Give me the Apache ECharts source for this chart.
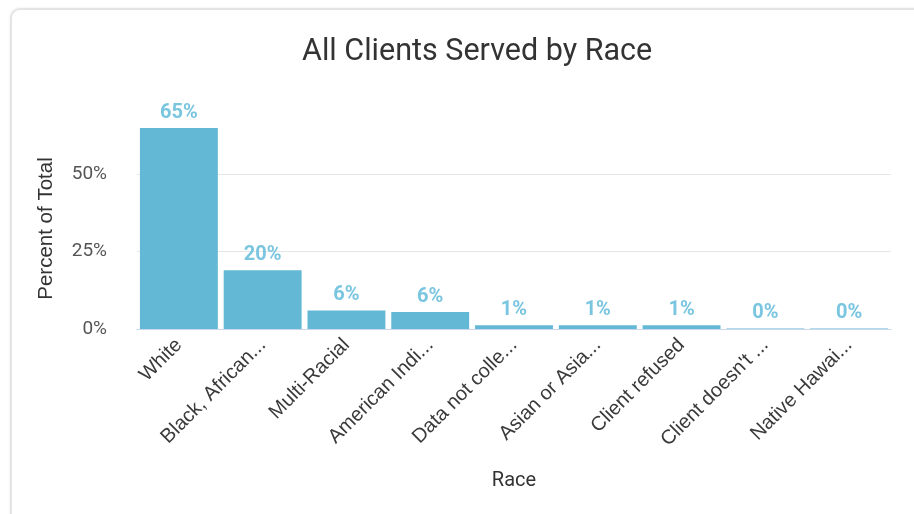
<!DOCTYPE html>
<html lang="en">
<head>
  <meta charset="UTF-8">
  <title>All Clients Served by Race</title>
  <script src="https://cdn.jsdelivr.net/npm/echarts@6/dist/echarts.min.js"></script>
</head>
<body style="margin: 0; background: #fff; overflow: hidden;">
<div style="position: absolute; left: 10px; top: 8px; width: 1000px; height: 600px; border: 2px solid #e4e4e4; border-radius: 10px; box-shadow: 0 0 3px rgba(0,0,0,0.08);"></div>
<div id="main" style="position: absolute; left: 0; top: 0; width: 914px; height: 514px;"></div>
<script type="text/javascript">
  const categories = ['White', 'Black, African...', 'Multi-Racial', 'American Indi...', 'Data not colle...',
    'Asian or Asia...', 'Client refused', "Client doesn't ...", 'Native Hawai...']
  const values = [65, 19, 6, 5.5, 1.2, 1.2, 1.2, 0.2, 0.2]
  const labels = ['65%', '20%', '6%', '6%', '1%', '1%', '1%', '0%', '0%']
  const yTicks = [0, 25, 50]

  const myChart = echarts.init(document.getElementById('main'))

  const option = {
    textStyle: { fontFamily: 'Roboto' },
    title: {
      text: 'All Clients Served by Race',
      left: 297,
      top: 32,
      textStyle: { fontSize: 30.5, fontWeight: 'normal', color: '#333', fontFamily: 'Roboto' }
    },
    grid: { left: 137, right: 23, top: 128, bottom: 185 },
    xAxis: {
      type: 'category',
      data: categories,
      name: 'Race',
      nameLocation: 'middle',
      nameGap: 142,
      nameTextStyle: { fontSize: 20, color: '#333', fontFamily: 'Roboto' },
      axisLine: { lineStyle: { color: '#ccd6eb' } },
      axisTick: { show: false },
      axisLabel: {
        rotate: 45, fontSize: 20, color: '#3a3a3a', margin: 13, interval: 0,
        fontFamily: 'Liberation Sans'
      }
    },
    yAxis: {
      type: 'value',
      min: 0,
      max: 65,
      interval: 25,
      name: 'Percent of Total',
      nameLocation: 'middle',
      nameGap: 80,
      nameTextStyle: { fontSize: 20.5, color: '#333', fontFamily: 'Liberation Sans' },
      axisLabel: {
        fontSize: 19, color: '#555', margin: 30, showMaxLabel: false,
        formatter: v => yTicks.includes(v) ? v + '%' : ''
      },
      splitLine: { showMaxLine: false, lineStyle: { color: '#e6e6e6' } }
    },
    series: [{
      type: 'bar',
      data: values,
      barCategoryGap: '7%',
      itemStyle: { color: '#63b8d5' },
      label: {
        show: true,
        position: 'top',
        distance: 5,
        fontSize: 20,
        fontWeight: 'bold',
        color: '#7ac5df',
        formatter: p => labels[p.dataIndex]
      }
    }]
  }

  myChart.setOption(option)
</script>
</body>
</html>
